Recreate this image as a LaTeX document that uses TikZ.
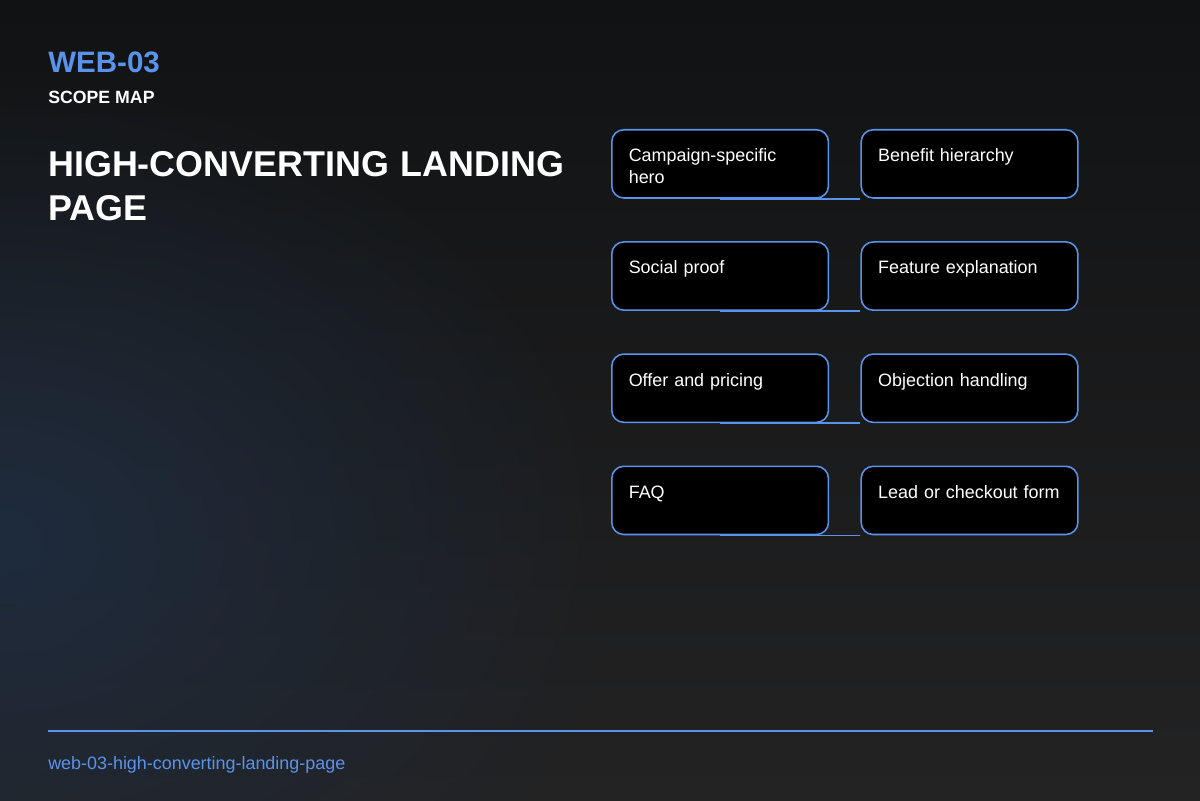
\documentclass[tikz,border=0pt]{standalone}
\usepackage{fontspec}
\setmainfont{Liberation Sans}
\usepackage{xcolor}
\usepackage{tikz}
\usetikzlibrary{positioning,fadings}
\definecolor{SMBgTop}{HTML}{111213}
\definecolor{SMBgBottom}{HTML}{232324}
\definecolor{SMGlow}{HTML}{1F2C3E}
\definecolor{SMAccent}{HTML}{5A93EC}
\definecolor{SMText}{HTML}{FFFFFF}
\tikzfading[name=smglowfade,inner color=transparent!0,outer color=transparent!100]
\tikzset{
  smbox/.style={
    rectangle,
    rounded corners=0.3cm,
    draw=SMAccent,
    line width=1.1pt,
    fill=black,
    text=SMText,
    align=left,
    anchor=north west,
    inner xsep=0.425cm,
    inner ysep=0.475cm,
    text width=4.565cm,
    text height=0.325cm,
    text depth=0.43cm,
    font=\fontsize{12.75}{15.6}\selectfont
  },
  smconn/.style={draw=SMAccent,line width=1.1pt},
  smcode/.style={font=\fontsize{21}{25}\selectfont\bfseries,text=SMAccent,anchor=base west,inner sep=0pt},
  smkicker/.style={font=\fontsize{12.6}{15}\selectfont\bfseries,text=SMText,anchor=base west,inner sep=0pt},
  smtitle/.style={font=\fontsize{25.5}{31.2}\selectfont\bfseries,text=SMText,anchor=base west,
    inner sep=0pt,align=left,text width=14cm},
  smslug/.style={font=\fontsize{12.75}{15}\selectfont,text=SMAccent,anchor=base west,inner sep=0pt},
}

\begin{document}
\begin{tikzpicture}[x=0.025cm,y=-0.025cm,node distance=1.06cm and 0.78cm]
  % background
  \useasboundingbox (0,0) rectangle (1200,800);
  \begin{scope}
    \clip (0,0) rectangle (1200,800);
    \shade[top color=SMBgTop,bottom color=SMBgBottom] (0,0) rectangle (1200,800);
    \fill[SMGlow,path fading=smglowfade] (0,540) ellipse (620 and 470);
  \end{scope}

  % header
  \node[smcode] (code) at (48,73) {WEB-03};
  \node[smkicker] (kicker) at (48,104) {SCOPE MAP};
  \node[smtitle] (title) at (48,177) {HIGH-CONVERTING LANDING\\PAGE};

  % scope grid
  \node[smbox] (hero) at (611,129) {Campaign-specific hero};
  \node[smbox,right=of hero] (benefit) {Benefit hierarchy};
  \node[smbox,below=of hero] (proof) {Social proof};
  \node[smbox,right=of proof] (feature) {Feature explanation};
  \node[smbox,below=of proof] (offer) {Offer and pricing};
  \node[smbox,right=of offer] (objection) {Objection handling};
  \node[smbox,below=of offer] (faq) {FAQ};
  \node[smbox,right=of faq] (leadform) {Lead or checkout form};

  \foreach \fromNode/\toNode in {hero/benefit,proof/feature,offer/objection,faq/leadform}
    \draw[smconn] (\fromNode.south) -- (\toNode.south west);

  % footer
  \coordinate (ruleL) at (48,731);
  \coordinate (ruleR) at (1153,731);
  \draw[SMAccent,line width=1.4pt] (ruleL) -- (ruleR);
  \node[smslug] (slug) at (48,769) {web-03-high-converting-landing-page};
\end{tikzpicture}
\end{document}
